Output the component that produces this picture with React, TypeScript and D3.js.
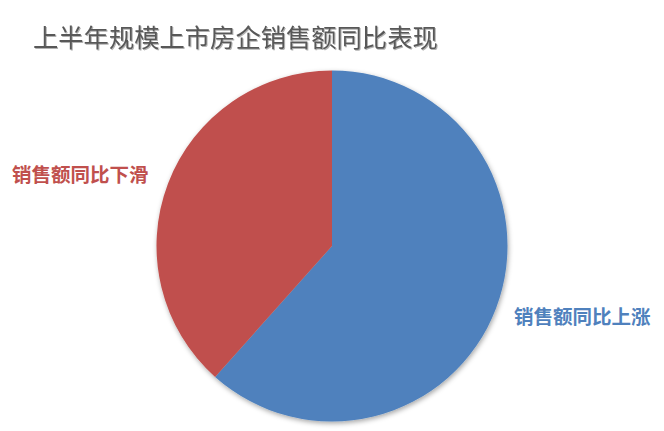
import React from "react";
import * as d3 from "d3";

const categories = ["销售额同比上涨", "销售额同比下滑"];
const values = [61.6, 38.4];
const colors = ["#4F81BD", "#C0504D"];
const title = "上半年规模上市房企销售额同比表现";

const W = 664;
const H = 431;
const cx = 332;
const cy = 246;
const R = 175.5;

export default function App() {
  const pie = d3.pie<number>().sort(null).value((d) => d);
  const arcs = pie(values);
  const arc = d3.arc<d3.PieArcDatum<number>>().innerRadius(0).outerRadius(R);
  const labelPos = [
    { x: 514, y: 324 },
    { x: 12, y: 182 },
  ];
  return (
    <svg
      width={W}
      height={H}
      style={{ position: "absolute", left: 0, top: 0, background: "#fff" }}
      fontFamily="'Noto Sans CJK SC', sans-serif"
    >
      <defs>
        <filter id="sh" x="-20%" y="-20%" width="140%" height="140%">
          <feDropShadow dx="1" dy="2" stdDeviation="2.5" floodColor="#000" floodOpacity="0.35" />
        </filter>
        <filter id="tsh" x="-5%" y="-20%" width="110%" height="140%">
          <feDropShadow dx="1" dy="1" stdDeviation="0.6" floodColor="#000" floodOpacity="0.3" />
        </filter>
      </defs>
      <text x={33} y={47} fontSize={25.3} fill="#595959" filter="url(#tsh)">
        {title}
      </text>
      <g transform={`translate(${cx},${cy})`} filter="url(#sh)">
        {arcs.map((a, i) => (
          <path key={i} d={arc(a) || ""} fill={colors[i]} />
        ))}
      </g>
      {categories.map((c, i) => (
        <text
          key={c}
          x={labelPos[i].x}
          y={labelPos[i].y}
          fontSize={19.5}
          fontWeight="bold"
          fill={colors[i]}
        >
          {c}
        </text>
      ))}
    </svg>
  );
}
